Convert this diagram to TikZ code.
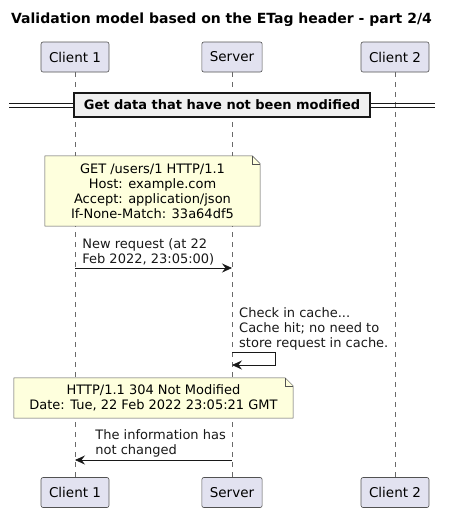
\documentclass[tikz,border=0pt]{standalone}
\usepackage{fontspec}
\setmainfont{DejaVu Sans}
\usepackage{xcolor}
\usetikzlibrary{arrows.meta,positioning,backgrounds,calc}
\definecolor{partfill}{HTML}{E2E2F0}
\definecolor{notefill}{HTML}{FEFFDD}
\definecolor{ink}{HTML}{181818}
% folded corner of a note
\newcommand{\notefold}[1]{%
  \filldraw[notebg] (#1.north west) -- ([xshift=-8pt]#1.north east)
    -- ([yshift=-8pt]#1.north east) -- (#1.south east) -- (#1.south west) -- cycle;
  \draw[notebg,fill=none] ([xshift=-8pt]#1.north east) |- ([yshift=-8pt]#1.north east);}

\begin{document}
\begin{tikzpicture}[
  x=1pt,y=-1pt,
  font=\fontsize{13}{15}\selectfont,
  part/.style={draw=ink!75,fill=partfill,rounded corners=2pt,line width=0.6pt,
               minimum height=30pt,inner xsep=8pt,font=\fontsize{13.5}{16}\selectfont},
  life/.style={draw=ink!65,dash pattern=on 5pt off 5pt,line width=0.5pt},
  note/.style={align=center,inner sep=2pt},
  notebg/.style={draw=ink!75,fill=notefill,line width=0.5pt},
  divbox/.style={draw=ink,fill=gray!12,line width=1.2pt,minimum height=24pt,
                 font=\bfseries\fontsize{13}{15}\selectfont},
  divline/.style={draw=ink,line width=0.9pt},
  flow/.style={-{Stealth[length=10pt,width=9pt,inset=3.5pt]},draw=ink,line width=0.7pt},
  lbl/.style={align=left,inner sep=1pt,text=ink},
]
\useasboundingbox (0,0) rectangle (450,512);

\node[font=\bfseries\fontsize{14}{16}\selectfont] (title) at (221.5,20)
  {Validation model based on the ETag header - part 2/4};

% participants, top and bottom
\node[part] (c1top) at (75,57) {Client 1};
\node[part] (srvtop) at (232,57) {Server};
\node[part] (c2top) at (395,57) {Client 2};
\node[part] (c1bot) at (75,492.5) {Client 1};
\node[part] (srvbot) at (232,492.5) {Server};
\node[part] (c2bot) at (395,492.5) {Client 2};

\begin{scope}[on background layer]
  \draw[life] (c1top) -- (c1bot);
  \draw[life] (srvtop) -- (srvbot);
  \draw[life] (c2top) -- (c2bot);
\end{scope}

% divider
\coordinate (dl) at (9,105.5);
\coordinate (dr) at (435,105.5);
\draw[divline] ([yshift=1.6pt]dl) -- ([yshift=1.6pt]dr);
\draw[divline] ([yshift=-1.6pt]dl) -- ([yshift=-1.6pt]dr);
\node[divbox,minimum width=296pt] (sep) at (222,105) {Get data that have not been modified};

% request
\node[note,minimum width=215pt,minimum height=70pt] (req) at (152.5,191)
  {GET /users/1 HTTP/1.1\\Host: example.com\\Accept: application/json\\If-None-Match: 33a64df5};
\coordinate (m1a) at (c1top |- 0,268);
\coordinate (m1b) at (srvtop |- 0,268);
\draw[flow] (m1a) -- (m1b)
  node[lbl,pos=0,anchor=south west,xshift=6pt,yshift=1pt] (l1) {New request (at 22\\Feb 2022, 23:05:00)};

% cache check
\coordinate (s1) at (srvtop |- 0,352);
\coordinate (s2) at (srvtop |- 0,365);
\draw[flow] (s1) -- ++(43,0) |- (s2);
\node[lbl,anchor=south west,xshift=6pt,yshift=1pt] (l2) at (s1)
  {Check in cache...\\Cache hit; no need to\\store request in cache.};

% response
\node[note,minimum width=279pt,minimum height=40pt] (resp) at (153.5,398)
  {HTTP/1.1 304 Not Modified\\Date: Tue, 22 Feb 2022 23:05:21 GMT};
\coordinate (m3a) at (srvtop |- 0,460);
\coordinate (m3b) at (c1top |- 0,460);
\draw[flow] (m3a) -- (m3b)
  node[lbl,pos=1,anchor=south west,xshift=19pt,yshift=1pt] (l3) {The information has\\not changed};

\begin{scope}[on background layer]
  \notefold{req}
  \notefold{resp}
\end{scope}
\end{tikzpicture}
\end{document}
